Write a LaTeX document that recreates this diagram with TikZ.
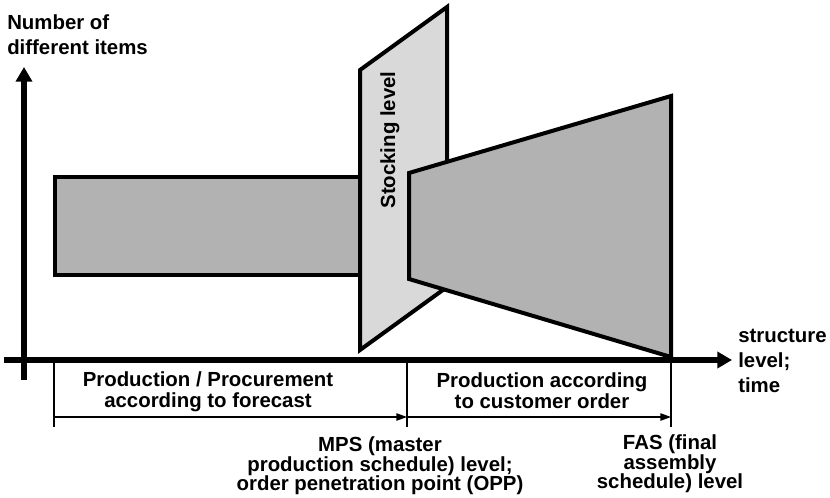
\documentclass[tikz,border=0pt]{standalone}
\usepackage{fontspec}
\setmainfont{Liberation Sans}
\usetikzlibrary{arrows.meta}
\definecolor{blockgray}{HTML}{B2B2B2}
\definecolor{stockgray}{HTML}{D9D9D9}

\begin{document}
\begin{tikzpicture}[
  x=0.75pt,
  y=0.75pt,
  block/.style={
    draw=black,
    line width=3pt,
    fill=blockgray
  },
  stock/.style={
    draw=black,
    line width=3pt,
    fill=stockgray
  },
  axis/.style={line width=4pt, -{Triangle[length=11pt, width=12pt]}},
  tickline/.style={line width=1.1pt},
  span/.style={line width=1.1pt, -{Triangle[length=8pt, width=5.5pt]}},
  lbl/.style={
    font=\bfseries\fontsize{15.3pt}{16pt}\selectfont,
    align=center,
    inner sep=0pt
  }
]
\useasboundingbox (0,0) rectangle (830,497);

\coordinate (xstart) at (4,137);
\coordinate (xend) at (732,137);
\coordinate (ystart) at (24,117);
\coordinate (yend) at (24,430);

\coordinate (fcsttop) at (54,137);
\coordinate (fcstbot) at (54,70);
\coordinate (opptop) at (407,137);
\coordinate (oppbot) at (407,70);
\coordinate (fastop) at (671,137);
\coordinate (fasbot) at (671,70);
\coordinate (fcstspan) at (54,80);
\coordinate (oppspan) at (407,80);
\coordinate (fasspan) at (671,80);

\draw[block] (55,320) rectangle (362,222);
\draw[stock] (360,427) -- (447,490) -- (447,210) -- (360,147) -- cycle;
\draw[block] (409,324) -- (671,401) -- (671,140) -- (409,218) -- cycle;

\draw[axis] (xstart) -- (xend);
\draw[axis] (ystart) -- (yend);

\draw[tickline] (fcsttop) -- (fcstbot);
\draw[tickline] (opptop) -- (oppbot);
\draw[tickline] (fastop) -- (fasbot);
\draw[span] (fcstspan) -- (oppspan);
\draw[span] (oppspan) -- (fasspan);

\node[lbl, align=left, anchor=north west, font=\bfseries\fontsize{15.3pt}{18.75pt}\selectfont] (ylbl) at (7,483)
  {Number of\\different items};
\node[lbl, rotate=90] (stocklbl) at (390,357)
  {Stocking level};
\node[lbl] (fcstlbl) at (208,105)
  {Production / Procurement\\according to forecast};
\node[lbl] (custlbl) at (542,106)
  {Production according\\to customer order};
\node[lbl, align=left, anchor=west, font=\bfseries\fontsize{15.3pt}{18.75pt}\selectfont] (xlbl) at (738,136)
  {structure\\level;\\time};
\node[lbl, font=\bfseries\fontsize{15.3pt}{14.5pt}\selectfont] (mpslbl) at (380,31)
  {MPS (master\\production schedule) level;\\order penetration point (OPP)};
\node[lbl, font=\bfseries\fontsize{15.3pt}{14.5pt}\selectfont] (faslbl) at (670,33)
  {FAS (final\\assembly\\schedule) level};
\end{tikzpicture}
\end{document}
